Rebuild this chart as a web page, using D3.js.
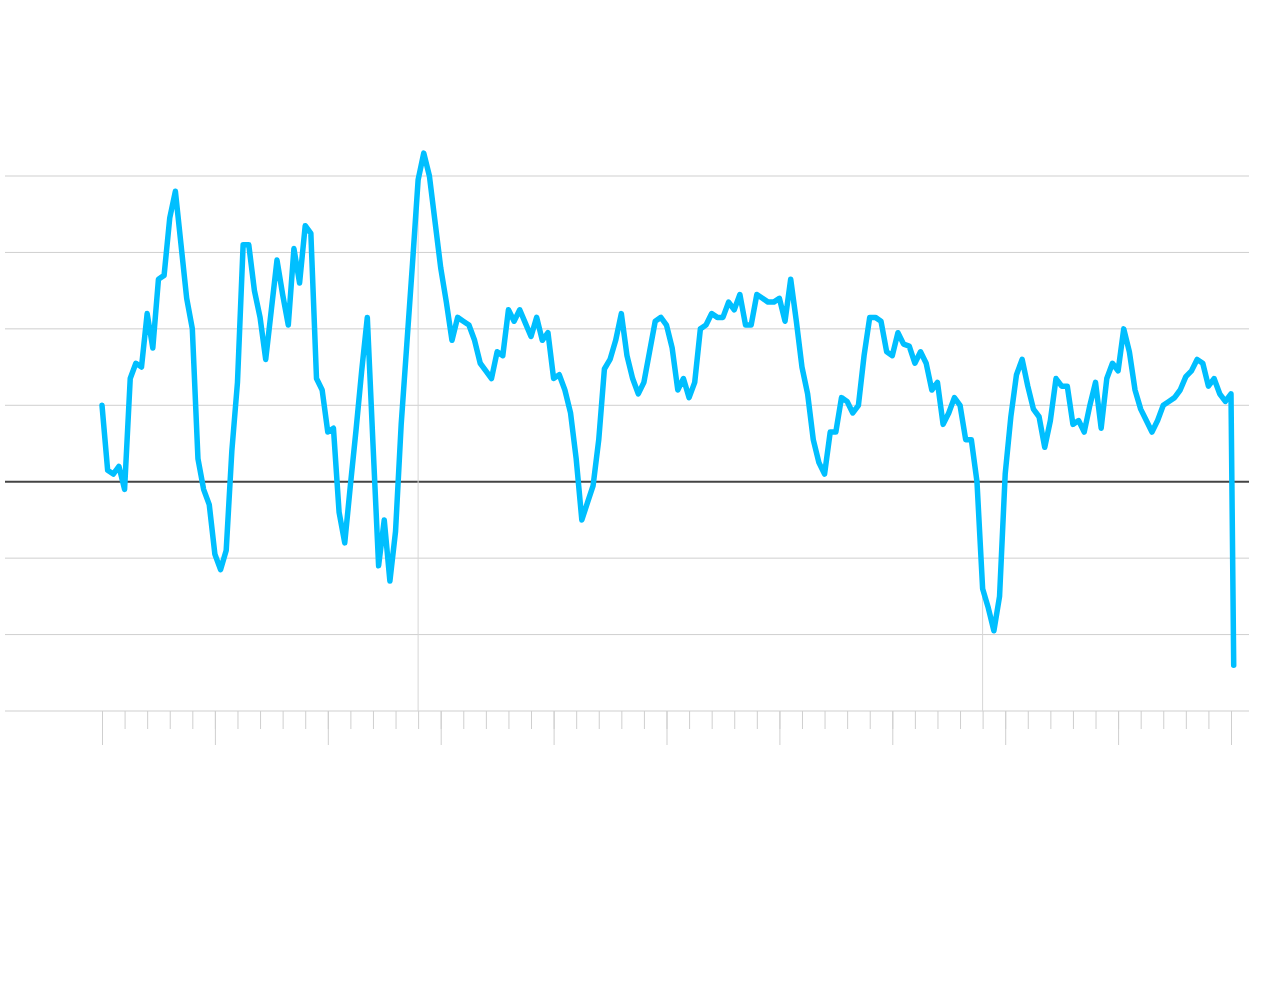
<!doctype html>
<html>
<head>
<meta charset="utf-8">
<script src="https://cdn.jsdelivr.net/npm/d3@7"></script>
<style>
  body { margin: 0; background: #fff; }
  svg { display: block; }
</style>
</head>
<body>
<svg id="chart"></svg>
<script>
// quarterly values, 1970 Q1 .. 2020 Q1
var startYear = 1970;
var values = [
  2.0, 0.3, 0.2, 0.4, -0.2, 2.7, 3.1, 3.0, 4.4, 3.5,
  5.3, 5.4, 6.9, 7.6, 6.2, 4.8, 4.0, 0.6, -0.2, -0.6,
  -1.9, -2.3, -1.8, 0.8, 2.6, 6.2, 6.2, 5.0, 4.3, 3.2,
  4.5, 5.8, 4.9, 4.1, 6.1, 5.2, 6.7, 6.5, 2.7, 2.4,
  1.3, 1.4, -0.8, -1.6, -0.1, 1.35, 2.9, 4.3, 1.0, -2.2,
  -1.0, -2.6, -1.3, 1.5, 3.6, 5.7, 7.9, 8.6, 8.0, 6.8,
  5.6, 4.7, 3.7, 4.3, 4.2, 4.1, 3.7, 3.1, 2.9, 2.7,
  3.4, 3.3, 4.5, 4.2, 4.5, 4.15, 3.8, 4.3, 3.7, 3.9,
  2.7, 2.8, 2.4, 1.8, 0.6, -1.0, -0.55, -0.1, 1.1, 2.95,
  3.2, 3.7, 4.4, 3.3, 2.7, 2.3, 2.6, 3.4, 4.2, 4.3,
  4.1, 3.5, 2.4, 2.7, 2.2, 2.6, 4.0, 4.1, 4.4, 4.3,
  4.3, 4.7, 4.5, 4.9, 4.1, 4.1, 4.9, 4.8, 4.7, 4.7,
  4.8, 4.2, 5.3, 4.2, 3.0, 2.3, 1.1, 0.5, 0.2, 1.3,
  1.3, 2.2, 2.1, 1.8, 2.0, 3.3, 4.3, 4.3, 4.2, 3.4,
  3.3, 3.9, 3.6, 3.55, 3.1, 3.4, 3.1, 2.4, 2.6, 1.5,
  1.8, 2.2, 2.0, 1.1, 1.1, 0.0, -2.8, -3.3, -3.9, -3.0,
  0.2, 1.7, 2.8, 3.2, 2.5, 1.9, 1.7, 0.9, 1.6, 2.7,
  2.5, 2.5, 1.5, 1.6, 1.3, 2.0, 2.6, 1.4, 2.7, 3.1,
  2.9, 4.0, 3.4, 2.4, 1.9, 1.6, 1.3, 1.6, 2.0, 2.1,
  2.2, 2.4, 2.75, 2.9, 3.2, 3.1, 2.5, 2.7, 2.3, 2.1,
  2.3
];
var finalYear = 2020.12;
var finalValue = -4.8;

var yTicks = [-6, -4, -2, 0, 2, 4, 6, 8];
var majorYears = d3.range(1970, 2021, 5);
var minorYears = d3.range(1970, 2021, 1);
var dropYears = [1984, 2009];

var width = 1280, height = 1004;
var gridLeft = 5, gridRight = 1249;

var series = values.map(function (v, i) { return { year: startYear + i / 4, value: v }; });
series.push({ year: finalYear, value: finalValue });

var x = d3.scaleLinear().domain([1970, 2020]).range([102, 1231]);
var y = d3.scaleLinear().domain([-6, 8]).range([711, 176]);

var svg = d3.select("#chart").attr("width", width).attr("height", height);

// horizontal grid
svg.append("g").attr("class", "grid")
  .selectAll("line").data(yTicks).enter().append("line")
  .attr("x1", gridLeft).attr("x2", gridRight)
  .attr("y1", function (d) { return y(d); })
  .attr("y2", function (d) { return y(d); })
  .attr("stroke", function (d) { return d === 0 ? "#444" : "#cfcfcf"; })
  .attr("stroke-width", function (d) { return d === 0 ? 2 : 1; });

// x ticks
var xAxisMinor = d3.axisBottom(x).tickValues(minorYears).tickSize(18).tickFormat("");
var xAxisMajor = d3.axisBottom(x).tickValues(majorYears).tickSize(34).tickFormat("");
var gMinor = svg.append("g").attr("transform", "translate(0," + y(-6) + ")").call(xAxisMinor);
var gMajor = svg.append("g").attr("transform", "translate(0," + y(-6) + ")").call(xAxisMajor);
[gMinor, gMajor].forEach(function (g) {
  g.select(".domain").remove();
  g.selectAll(".tick line").attr("stroke", "#cfcfcf");
});

// drop lines
var lookup = {};
series.forEach(function (d) { lookup[d.year] = d.value; });
svg.append("g").selectAll("line").data(dropYears).enter().append("line")
  .attr("x1", function (d) { return x(d); }).attr("x2", function (d) { return x(d); })
  .attr("y1", function (d) { return y(lookup[d]); })
  .attr("y2", y(-6))
  .attr("stroke", "#d6d6d6").attr("stroke-width", 1);

// main line
var line = d3.line()
  .x(function (d) { return x(d.year); })
  .y(function (d) { return y(d.value); });

svg.append("path").datum(series)
  .attr("d", line)
  .attr("fill", "none")
  .attr("stroke", "#00bfff")
  .attr("stroke-width", 5.5)
  .attr("stroke-linejoin", "round")
  .attr("stroke-linecap", "round");
</script>
</body>
</html>
